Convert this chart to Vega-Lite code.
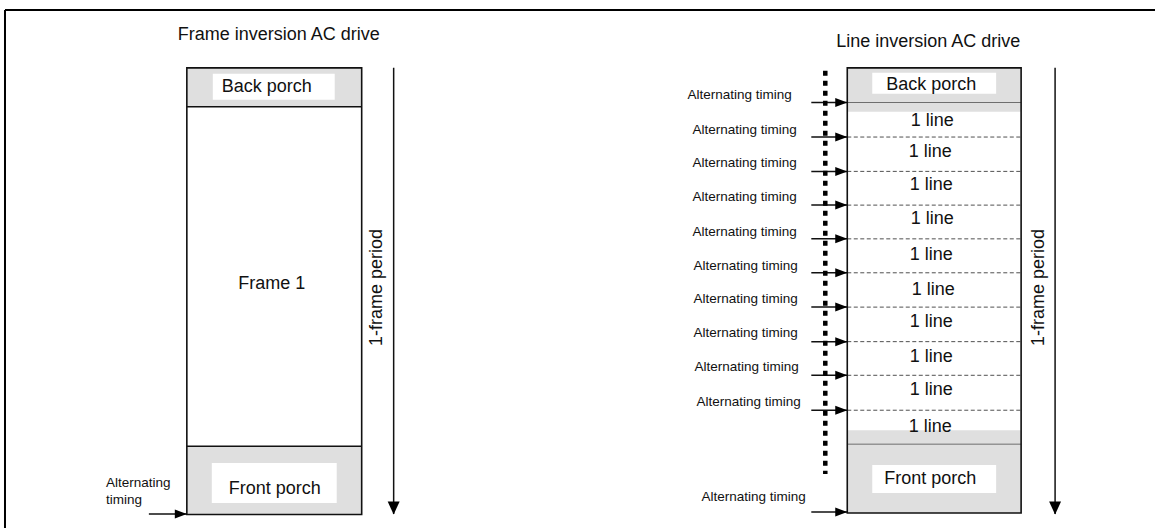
{
  "$schema": "https://vega.github.io/schema/vega-lite/v6.json",
  "width": 1156,
  "height": 529,
  "autosize": {"type": "fit", "contains": "padding"},
  "padding": 0,
  "background": "white",
  "config": {"view": {"stroke": null}, "axis": {"disable": true}, "text": {"font": "Liberation Sans"}},
  "datasets": {
    "fills": [
      {"x": 187, "x2": 362, "y": 68, "y2": 107, "kind": "dotted"},
      {"x": 187, "x2": 362, "y": 447, "y2": 515.5, "kind": "dotted"},
      {"x": 848, "x2": 1022, "y": 68, "y2": 112, "kind": "dotted"},
      {"x": 848, "x2": 1022, "y": 431, "y2": 514, "kind": "dotted"},
      {"x": 213, "x2": 335, "y": 74, "y2": 100, "kind": "clear"},
      {"x": 212, "x2": 337, "y": 464, "y2": 504, "kind": "clear"},
      {"x": 873, "x2": 997, "y": 73, "y2": 94, "kind": "clear"},
      {"x": 873, "x2": 997, "y": 466, "y2": 494, "kind": "clear"}
    ],
    "boxes": [
      {"x": 187, "x2": 362, "y": 68, "y2": 515.5},
      {"x": 848, "x2": 1022, "y": 68, "y2": 514}
    ],
    "bounds": [
      {"x": 848, "x2": 1022, "y": 102.7},
      {"x": 848, "x2": 1022, "y": 445}
    ],
    "dashes": [
      {"x": 848, "x2": 1022, "y": 137.3},
      {"x": 848, "x2": 1022, "y": 171.7},
      {"x": 848, "x2": 1022, "y": 205.5},
      {"x": 848, "x2": 1022, "y": 239.3},
      {"x": 848, "x2": 1022, "y": 273.3},
      {"x": 848, "x2": 1022, "y": 307.7},
      {"x": 848, "x2": 1022, "y": 342.3},
      {"x": 848, "x2": 1022, "y": 376},
      {"x": 848, "x2": 1022, "y": 411}
    ],
    "segments": [
      {"x": 187, "x2": 362, "y": 107, "y2": 107},
      {"x": 187, "x2": 362, "y": 447, "y2": 447},
      {"x": 149, "x2": 187, "y": 515, "y2": 515},
      {"x": 394, "x2": 394, "y": 68, "y2": 515},
      {"x": 1056, "x2": 1056, "y": 68, "y2": 515},
      {"x": 812, "x2": 848, "y": 102.7, "y2": 102.7},
      {"x": 812, "x2": 848, "y": 137.3, "y2": 137.3},
      {"x": 812, "x2": 848, "y": 171.7, "y2": 171.7},
      {"x": 812, "x2": 848, "y": 205.5, "y2": 205.5},
      {"x": 812, "x2": 848, "y": 239.3, "y2": 239.3},
      {"x": 812, "x2": 848, "y": 273.3, "y2": 273.3},
      {"x": 812, "x2": 848, "y": 307.7, "y2": 307.7},
      {"x": 812, "x2": 848, "y": 342.3, "y2": 342.3},
      {"x": 812, "x2": 848, "y": 376, "y2": 376},
      {"x": 812, "x2": 848, "y": 411, "y2": 411},
      {"x": 812, "x2": 848, "y": 513, "y2": 513}
    ],
    "frame": [
      {"x": 5, "x2": 1156, "y": 10, "y2": 10},
      {"x": 5, "x2": 5, "y": 10, "y2": 529}
    ],
    "timeline": [
      {"x": 826, "y": 71, "y2": 475}
    ],
    "heads": [
      {"x": 187, "y": 515, "dir": "right"},
      {"x": 848, "y": 102.7, "dir": "right"},
      {"x": 848, "y": 137.3, "dir": "right"},
      {"x": 848, "y": 171.7, "dir": "right"},
      {"x": 848, "y": 205.5, "dir": "right"},
      {"x": 848, "y": 239.3, "dir": "right"},
      {"x": 848, "y": 273.3, "dir": "right"},
      {"x": 848, "y": 307.7, "dir": "right"},
      {"x": 848, "y": 342.3, "dir": "right"},
      {"x": 848, "y": 376, "dir": "right"},
      {"x": 848, "y": 411, "dir": "right"},
      {"x": 848, "y": 513, "dir": "right"},
      {"x": 394, "y": 515.5, "dir": "down"},
      {"x": 1056, "y": 515.5, "dir": "down"}
    ],
    "texts": [
      {"x": 279, "y": 35, "text": "Frame inversion AC drive", "role": "big"},
      {"x": 929, "y": 42, "text": "Line inversion AC drive", "role": "big"},
      {"x": 267, "y": 87, "text": "Back porch", "role": "big"},
      {"x": 272, "y": 285, "text": "Frame 1", "role": "big"},
      {"x": 275, "y": 490, "text": "Front porch", "role": "big"},
      {"x": 932, "y": 85, "text": "Back porch", "role": "big"},
      {"x": 933, "y": 121, "text": "1 line", "role": "big"},
      {"x": 931, "y": 152, "text": "1 line", "role": "big"},
      {"x": 932, "y": 185, "text": "1 line", "role": "big"},
      {"x": 933, "y": 219, "text": "1 line", "role": "big"},
      {"x": 932, "y": 255, "text": "1 line", "role": "big"},
      {"x": 934, "y": 291, "text": "1 line", "role": "big"},
      {"x": 932, "y": 323, "text": "1 line", "role": "big"},
      {"x": 932, "y": 358, "text": "1 line", "role": "big"},
      {"x": 932, "y": 391, "text": "1 line", "role": "big"},
      {"x": 931, "y": 428, "text": "1 line", "role": "big"},
      {"x": 931, "y": 480, "text": "Front porch", "role": "big"},
      {"x": 377, "y": 288, "text": "1-frame period", "role": "side"},
      {"x": 1040, "y": 288, "text": "1-frame period", "role": "side"},
      {"x": 106, "y": 484, "text": "Alternating", "role": "note"},
      {"x": 106, "y": 501, "text": "timing", "role": "note"},
      {"x": 688, "y": 95, "text": "Alternating timing", "role": "note"},
      {"x": 693, "y": 130, "text": "Alternating timing", "role": "note"},
      {"x": 693, "y": 163, "text": "Alternating timing", "role": "note"},
      {"x": 693, "y": 197, "text": "Alternating timing", "role": "note"},
      {"x": 693, "y": 232, "text": "Alternating timing", "role": "note"},
      {"x": 694, "y": 267, "text": "Alternating timing", "role": "note"},
      {"x": 694, "y": 300, "text": "Alternating timing", "role": "note"},
      {"x": 694, "y": 334, "text": "Alternating timing", "role": "note"},
      {"x": 695, "y": 368, "text": "Alternating timing", "role": "note"},
      {"x": 697, "y": 403, "text": "Alternating timing", "role": "note"},
      {"x": 702, "y": 498, "text": "Alternating timing", "role": "note"}
    ]
  },
  "layer": [
    {
      "data": {"name": "fills"},
      "mark": {"type": "rect", "strokeWidth": 0},
      "encoding": {
        "x": {"field": "x", "type": "quantitative", "scale": {"domain": [0, 1156], "nice": false, "zero": false}},
        "x2": {"field": "x2"},
        "y": {"field": "y", "type": "quantitative", "scale": {"domain": [0, 529], "nice": false, "zero": false, "reverse": true}},
        "y2": {"field": "y2"},
        "color": {"field": "kind", "type": "nominal", "scale": {"domain": ["dotted", "clear"], "range": ["#dfdfdf", "#ffffff"]}, "legend": null}
      }
    },
    {
      "data": {"name": "bounds"},
      "mark": {"type": "rule", "color": "#6e6e6e", "strokeWidth": 1},
      "encoding": {
        "x": {"field": "x", "type": "quantitative"},
        "x2": {"field": "x2"},
        "y": {"field": "y", "type": "quantitative"}
      }
    },
    {
      "data": {"name": "dashes"},
      "mark": {"type": "rule", "color": "#505050", "strokeWidth": 1, "strokeDash": [4, 2.5]},
      "encoding": {
        "x": {"field": "x", "type": "quantitative"},
        "x2": {"field": "x2"},
        "y": {"field": "y", "type": "quantitative"}
      }
    },
    {
      "data": {"name": "boxes"},
      "mark": {"type": "rect", "fill": null, "fillOpacity": 0, "stroke": "#111111", "strokeWidth": 1.6},
      "encoding": {
        "x": {"field": "x", "type": "quantitative"},
        "x2": {"field": "x2"},
        "y": {"field": "y", "type": "quantitative"},
        "y2": {"field": "y2"}
      }
    },
    {
      "data": {"name": "segments"},
      "mark": {"type": "rule", "color": "#111111", "strokeWidth": 1.5},
      "encoding": {
        "x": {"field": "x", "type": "quantitative"},
        "x2": {"field": "x2"},
        "y": {"field": "y", "type": "quantitative"},
        "y2": {"field": "y2"}
      }
    },
    {
      "data": {"name": "frame"},
      "mark": {"type": "rule", "color": "#000000", "strokeWidth": 2},
      "encoding": {
        "x": {"field": "x", "type": "quantitative"},
        "x2": {"field": "x2"},
        "y": {"field": "y", "type": "quantitative"},
        "y2": {"field": "y2"}
      }
    },
    {
      "data": {"name": "timeline"},
      "mark": {"type": "rule", "color": "#000000", "strokeWidth": 4.5, "strokeDash": [5, 5]},
      "encoding": {
        "x": {"field": "x", "type": "quantitative"},
        "y": {"field": "y", "type": "quantitative"},
        "y2": {"field": "y2"}
      }
    },
    {
      "data": {"name": "heads"},
      "transform": [{"filter": "datum.dir === 'right'"}],
      "mark": {"type": "point", "filled": true, "color": "#000000", "opacity": 1, "size": 576, "shape": "M0,0L-1,-0.375L-1,0.375Z"},
      "encoding": {
        "x": {"field": "x", "type": "quantitative"},
        "y": {"field": "y", "type": "quantitative"}
      }
    },
    {
      "data": {"name": "heads"},
      "transform": [{"filter": "datum.dir === 'down'"}],
      "mark": {"type": "point", "filled": true, "color": "#000000", "opacity": 1, "size": 676, "shape": "M0,0L-0.46,-1L0.46,-1Z"},
      "encoding": {
        "x": {"field": "x", "type": "quantitative"},
        "y": {"field": "y", "type": "quantitative"}
      }
    },
    {
      "data": {"name": "texts"},
      "transform": [{"filter": "datum.role === 'big'"}],
      "mark": {"type": "text", "fontSize": 18, "align": "center", "baseline": "middle", "color": "#111111"},
      "encoding": {
        "x": {"field": "x", "type": "quantitative"},
        "y": {"field": "y", "type": "quantitative"},
        "text": {"field": "text"}
      }
    },
    {
      "data": {"name": "texts"},
      "transform": [{"filter": "datum.role === 'side'"}],
      "mark": {"type": "text", "fontSize": 18, "align": "center", "baseline": "middle", "angle": 270, "color": "#111111"},
      "encoding": {
        "x": {"field": "x", "type": "quantitative"},
        "y": {"field": "y", "type": "quantitative"},
        "text": {"field": "text"}
      }
    },
    {
      "data": {"name": "texts"},
      "transform": [{"filter": "datum.role === 'note'"}],
      "mark": {"type": "text", "fontSize": 13.5, "align": "left", "baseline": "middle", "color": "#111111"},
      "encoding": {
        "x": {"field": "x", "type": "quantitative"},
        "y": {"field": "y", "type": "quantitative"},
        "text": {"field": "text"}
      }
    }
  ]
}
